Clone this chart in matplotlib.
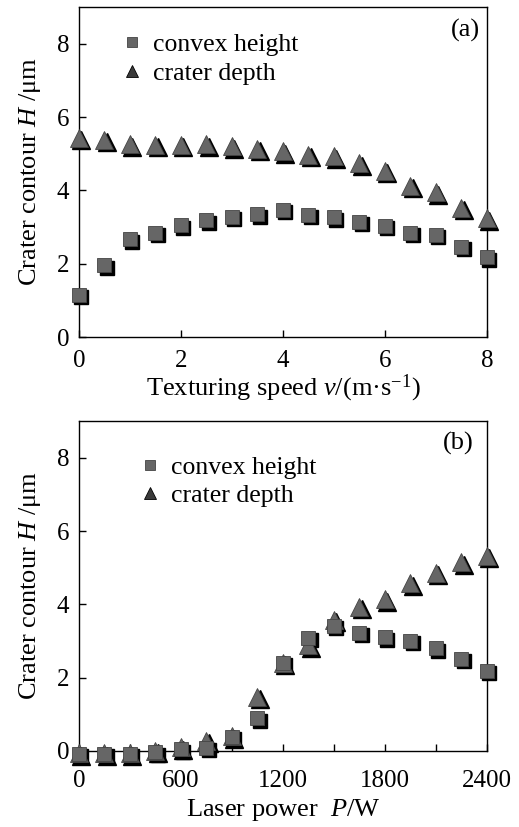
import numpy as np
import matplotlib
matplotlib.use("Agg")
import matplotlib.pyplot as plt
from matplotlib.lines import Line2D
from matplotlib.transforms import offset_copy

plt.rcParams['font.family'] = ['Liberation Serif', 'DejaVu Serif']
plt.rcParams['mathtext.fontset'] = 'custom'
plt.rcParams['mathtext.rm'] = 'Liberation Serif'
plt.rcParams['mathtext.it'] = 'Liberation Serif:italic'

# (a) texturing speed, m/s
speed = [0, 0.5, 1.0, 1.5, 2.0, 2.5, 3.0, 3.5, 4.0, 4.5, 5.0, 5.5, 6.0, 6.5, 7.0, 7.5, 8.0]
convex_a = [1.15, 1.96, 2.66, 2.85, 3.05, 3.18, 3.27, 3.35, 3.47, 3.33, 3.26, 3.14, 3.04, 2.85, 2.78, 2.46, 2.17]
depth_a = [5.44, 5.37, 5.26, 5.25, 5.25, 5.26, 5.20, 5.14, 5.06, 4.97, 4.93, 4.74, 4.53, 4.13, 3.95, 3.53, 3.24]

# (b) laser power, W
power = [0, 150, 300, 450, 600, 750, 900, 1050, 1200, 1350, 1500, 1650, 1800, 1950, 2100, 2250, 2400]
convex_b = [-0.08, -0.08, -0.08, -0.04, 0.05, 0.08, 0.39, 0.89, 2.40, 3.08, 3.42, 3.22, 3.10, 3.01, 2.80, 2.51, 2.18]
depth_b = [-0.06, -0.06, -0.06, 0.0, 0.1, 0.28, 0.40, 1.47, 2.40, 2.88, 3.57, 3.93, 4.14, 4.57, 4.86, 5.15, 5.33]

GREY = '#666666'
FS = 18


def draw_series(ax, fig, x, y, marker, size):
    shadow = offset_copy(ax.transData, fig=fig, x=1.7, y=-1.7, units='points')
    ax.plot(x, y, linestyle='none', marker=marker, markersize=size,
            color='black', markeredgecolor='black', transform=shadow, clip_on=False, zorder=3)
    ax.plot(x, y, linestyle='none', marker=marker, markersize=size,
            color=GREY, markeredgecolor='#444444', markeredgewidth=0.6, clip_on=False, zorder=4)


def style_axes(ax, xpad):
    for sp in ax.spines.values():
        sp.set_linewidth(1.0)
    ax.tick_params(direction='in', length=5, width=1.0, labelsize=FS, top=False, right=False)
    ax.tick_params(axis='x', pad=xpad)
    ax.tick_params(axis='y', pad=7)
    ax.set_ylim(0, 9)
    ax.set_yticks([0, 2, 4, 6, 8])
    ax.set_ylabel('Crater contour $\\mathit{H}$ /μm', fontsize=19, labelpad=10)


def add_legend(ax, loc_anchor):
    handles = [Line2D([], [], linestyle='none', marker='s', markersize=7, color=GREY,
                      markeredgecolor='#444444', markeredgewidth=0.6),
               Line2D([], [], linestyle='none', marker='^', markersize=8, color='#3a3a3a',
                      markeredgecolor='black', markeredgewidth=0.6)]
    ax.legend(handles, ['convex height', 'crater depth'], loc='upper left', bbox_to_anchor=loc_anchor,
              frameon=False, fontsize=FS + 0.5, handlelength=0.8, handletextpad=0.4,
              labelspacing=0.2, borderaxespad=0, borderpad=0)


fig = plt.figure(figsize=(5.19, 8.27), dpi=100)

ax1 = fig.add_axes([0.152, 0.5925, 0.786, 0.399])
draw_series(ax1, fig, speed, depth_a, '^', 12.5)
draw_series(ax1, fig, speed, convex_a, 's', 10.5)
ax1.set_xlim(0, 8)
ax1.set_xticks([0, 2, 4, 6, 8])
style_axes(ax1, 9)
ax1.set_xlabel('Texturing speed $\\mathit{v}$/(m·s$^{-1}$)', fontsize=FS + 1, labelpad=1)
add_legend(ax1, (0.105, 0.92))
ax1.text(0.983, 0.93, '(a)', transform=ax1.transAxes, ha='right', va='center', fontsize=FS + 1)

ax2 = fig.add_axes([0.152, 0.0919, 0.786, 0.399])
draw_series(ax2, fig, power, depth_b, '^', 12.5)
draw_series(ax2, fig, power, convex_b, 's', 10.5)
ax2.set_xlim(0, 2400)
ax2.set_xticks(np.arange(0, 2401, 300))
ax2.set_xticklabels(['0', '', '600', '', '1200', '', '1800', '', '2400'])
style_axes(ax2, 14)
ax2.set_xlabel('Laser power  $\\mathit{P}$/W', fontsize=FS + 1, labelpad=3)
add_legend(ax2, (0.15, 0.895))
ax2.text(0.968, 0.933, '(b)', transform=ax2.transAxes, ha='right', va='center', fontsize=FS + 1)

fig.savefig('out.png', dpi=100)
